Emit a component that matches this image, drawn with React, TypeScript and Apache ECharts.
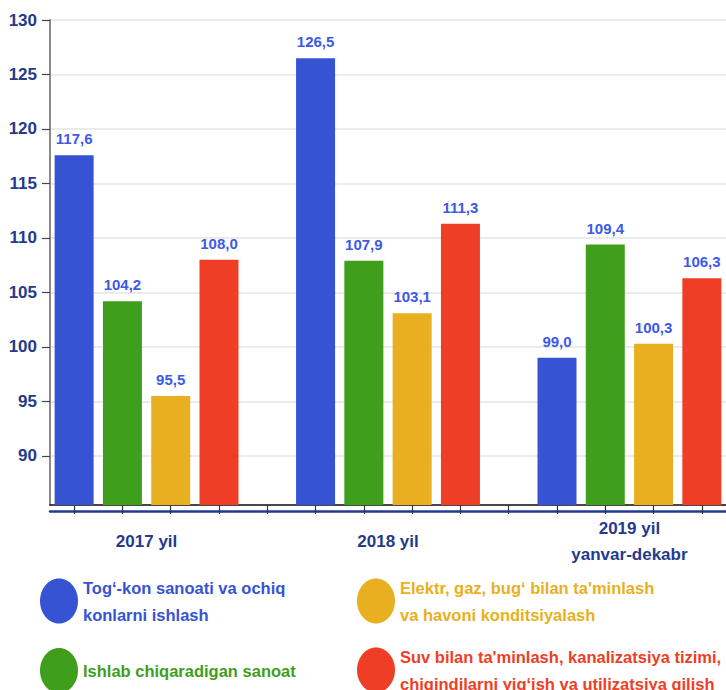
import React, { useEffect, useRef } from "react";
import * as echarts from "echarts";

const years = ["2017 yil", "2018 yil", "2019 yil\nyanvar-dekabr"];
const seriesNames = [
  "Tog‘-kon sanoati va ochiq konlarni ishlash",
  "Ishlab chiqaradigan sanoat",
  "Elektr, gaz, bug‘ bilan ta'minlash va havoni konditsiyalash",
  "Suv bilan ta'minlash, kanalizatsiya tizimi, chiqindilarni yig‘ish va utilizatsiya qilish",
];
const legendLabels = [
  "Tog‘-kon sanoati va ochiq\nkonlarni ishlash",
  "Ishlab chiqaradigan sanoat",
  "Elektr, gaz, bug‘ bilan ta'minlash\nva havoni konditsiyalash",
  "Suv bilan ta'minlash, kanalizatsiya tizimi,\nchiqindilarni yig‘ish va utilizatsiya qilish",
];
const mining = [117.6, 126.5, 99.0];
const manufacturing = [104.2, 107.9, 109.4];
const electricity = [95.5, 103.1, 100.3];
const water = [108.0, 111.3, 106.3];
const yTicks = [90, 95, 100, 105, 110, 115, 120, 125, 130];

const colors = ["#3653d4", "#3f9e1b", "#e8b020", "#ee3e25"];
const FONT = "'Liberation Sans', Arial, sans-serif";
const NAVY = "#243a8c";

export default function App() {
  const ref = useRef<HTMLDivElement>(null);
  useEffect(() => {
    if (!ref.current) return;
    const chart = echarts.init(ref.current, null, { renderer: "svg" });
    const allSeries = [mining, manufacturing, electricity, water];
    const slotsPerYear = 5;
    const nSlots = years.length * slotsPerYear - 1;
    const slots = Array.from({ length: nSlots }, (_, i) => "s" + i);
    const series = allSeries.map((vals, si) => {
      const data: any[] = slots.map(() => "-");
      vals.forEach((v, yi) => {
        data[yi * slotsPerYear + si] = v;
      });
      return {
        name: seriesNames[si],
        type: "bar",
        xAxisIndex: 0,
        yAxisIndex: 0,
        data,
        barWidth: 39,
        barGap: "-100%",
        itemStyle: { color: colors[si] },
        label: {
          show: true,
          position: "top",
          distance: 9,
          color: "#3d5ae6",
          fontFamily: FONT,
          fontWeight: "bold",
          fontSize: 15,
          formatter: (p: any) => Number(p.value).toFixed(1).replace(".", ","),
        },
      };
    });
    const ellipse =
      "path://M50,0 C77.6,0 100,22.4 100,50 C100,77.6 77.6,100 50,100 C22.4,100 0,77.6 0,50 C0,22.4 22.4,0 50,0 Z";
    const legendPos = [
      { left: 40, top: 574 },
      { left: 40, top: 648 },
      { left: 357, top: 574 },
      { left: 357, top: 643 },
    ];
    const legends = seriesNames.map((n, i) => ({
      ...legendPos[i],
      orient: "vertical",
      padding: 0,
      data: [n],
      icon: ellipse,
      symbolKeepAspect: false,
      itemWidth: 38,
      itemHeight: 45,
      selectedMode: false,
      formatter: () => legendLabels[i],
      textStyle: {
        color: colors[i],
        fontFamily: FONT,
        fontWeight: "bold",
        fontSize: 16.5,
        lineHeight: 27,
      },
    }));
    const option: any = {
      animation: false,
      backgroundColor: "#ffffff",
      grid: { left: 50, top: 20, width: 680, height: 485 },
      legend: legends,
      xAxis: [
        {
          type: "category",
          data: slots,
          position: "bottom",
          axisLine: { lineStyle: { color: "#111", width: 1.5 } },
          axisTick: {
            show: true,
            alignWithLabel: true,
            interval: 0,
            length: 9,
            lineStyle: { color: "#333", width: 1.2 },
          },
          axisLabel: { show: false },
          splitLine: { show: false },
        },
        {
          type: "value",
          min: -0.5,
          max: nSlots - 0.5,
          position: "bottom",
          offset: 6,
          axisLine: { show: true, onZero: false, lineStyle: { color: NAVY, width: 2.5 } },
          axisTick: { show: false },
          splitLine: { show: false },
          axisLabel: {
            customValues: years.map((_, yi) => yi * slotsPerYear + 1.5),
            formatter: (v: number) => years[Math.round((v - 1.5) / slotsPerYear)] ?? "",
            color: NAVY,
            fontFamily: FONT,
            fontWeight: "bold",
            fontSize: 17,
            lineHeight: 26,
            verticalAlign: "middle",
            margin: 30,
          },
        },
      ],
      yAxis: {
        type: "value",
        min: 85.5,
        max: 130,
        splitNumber: 9,
        axisLine: { show: true, onZero: false, lineStyle: { color: "#8a8a8a", width: 2 } },
        axisTick: { show: true, length: 8, lineStyle: { color: "#444", width: 1.2 } },
        axisLabel: {
          color: NAVY,
          fontFamily: FONT,
          fontWeight: "bold",
          fontSize: 17,
          margin: 13,
          showMinLabel: false,
          formatter: (v: number) => (yTicks.includes(v) ? String(v) : ""),
        },
        splitLine: { show: true, lineStyle: { color: "#e4e4e4", width: 1.5 } },
      },
      series,
    };
    chart.setOption(option);
    return () => chart.dispose();
  }, []);
  return (
    <div
      ref={ref}
      style={{ position: "fixed", left: 0, top: 0, width: 726, height: 690, background: "#fff" }}
    />
  );
}
